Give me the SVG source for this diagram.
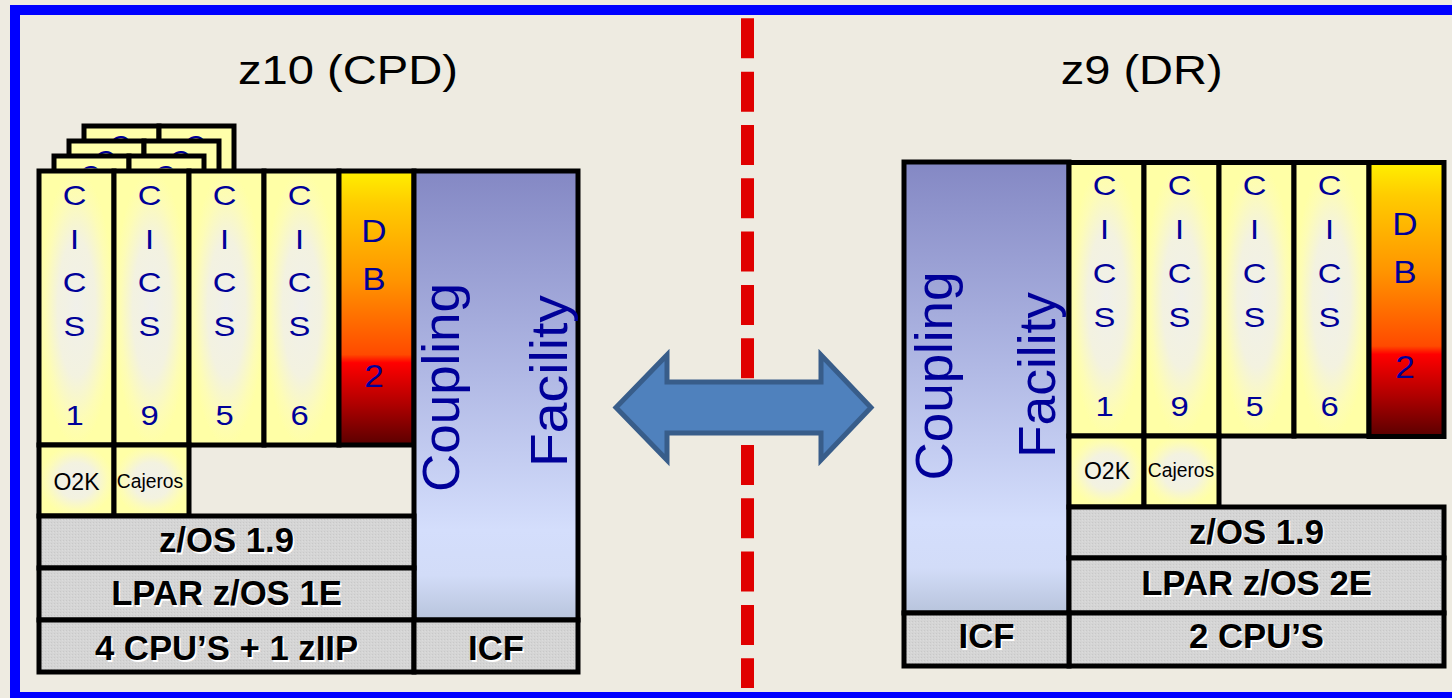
<svg xmlns="http://www.w3.org/2000/svg" width="1452" height="698" viewBox="0 0 1452 698">
<defs>
<style>
.box{stroke:#000;stroke-width:5}
.cics{fill:url(#yel)}
.ltr{font-family:"Liberation Sans",Arial,sans-serif;font-size:28.5px;fill:#000099;text-anchor:middle}
.db{font-family:"Liberation Sans",Arial,sans-serif;font-size:30.5px;fill:#000099;text-anchor:middle}
.bar{fill:url(#tex)}
.bt{font-family:"Liberation Sans",Arial,sans-serif;font-size:34.7px;font-weight:bold;text-anchor:middle}
.sh{fill:#fff}
.cf{font-family:"Liberation Sans",Arial,sans-serif;font-size:52px;fill:#000099;text-anchor:middle}
.title{font-family:"Liberation Sans",Arial,sans-serif;font-size:40px;fill:#000;text-anchor:middle}
.sm{font-family:"Liberation Sans",Arial,sans-serif;fill:#000;text-anchor:middle}
.paper{fill:#FFFFAA;stroke:#000;stroke-width:5}
</style>
<radialGradient id="yel" cx="50%" cy="50%" r="50%">
<stop offset="0" stop-color="#F0F0EA"/>
<stop offset="0.5" stop-color="#F3F2E0"/>
<stop offset="0.82" stop-color="#FDFCB6"/>
<stop offset="1" stop-color="#FFFFA6"/>
</radialGradient>
<linearGradient id="db2" x1="0" y1="0" x2="0" y2="1">
<stop offset="0" stop-color="#FFF000"/>
<stop offset="0.12" stop-color="#FFCC00"/>
<stop offset="0.4" stop-color="#FF9400"/>
<stop offset="0.67" stop-color="#FF4A00"/>
<stop offset="0.7" stop-color="#FF0000"/>
<stop offset="0.85" stop-color="#B00000"/>
<stop offset="1" stop-color="#5A0000"/>
</linearGradient>
<linearGradient id="cfg" x1="0" y1="0" x2="0" y2="1">
<stop offset="0" stop-color="#8488C4"/>
<stop offset="0.45" stop-color="#B0B8E4"/>
<stop offset="0.8" stop-color="#D4DEFC"/>
<stop offset="0.9" stop-color="#D2DCF8"/>
<stop offset="1" stop-color="#B8C4DC"/>
</linearGradient>
<pattern id="tex" width="3" height="3" patternUnits="userSpaceOnUse">
<rect width="3" height="3" fill="#D5D5D5"/>
<rect width="1" height="1" fill="#C8C8C8"/>
<rect x="2" y="1" width="1" height="1" fill="#DCDCDC"/>
</pattern>
<clipPath id="s3"><rect x="80" y="128.5" width="160" height="12.5"/></clipPath>
<clipPath id="s2"><rect x="65" y="143.5" width="160" height="12.5"/></clipPath>
<clipPath id="s1"><rect x="50" y="158.5" width="160" height="10"/></clipPath>
</defs>

<rect x="0" y="0" width="1452" height="698" fill="#EEEBE1"/>

<g id="divider">
<line x1="747.5" y1="18.3" x2="747.5" y2="688" stroke="#E00000" stroke-width="13" stroke-dasharray="40 13.33"/>
</g>

<g id="title-z10"><text class="title" x="348" y="83.5" textLength="220" lengthAdjust="spacingAndGlyphs">z10 (CPD)</text></g>
<g id="title-z9"><text class="title" x="1141.7" y="83.5" textLength="162" lengthAdjust="spacingAndGlyphs">z9 (DR)</text></g>

<!-- LEFT -->
<g id="left-stack">
<rect class="paper" x="84" y="126" width="75" height="274"/>
<rect class="paper" x="159" y="126" width="75" height="274"/>
<g clip-path="url(#s3)"><text class="ltr" x="120" y="155">C</text><text class="ltr" x="195" y="155">C</text></g>
<rect class="paper" x="69" y="141" width="75" height="274"/>
<rect class="paper" x="144" y="141" width="75" height="274"/>
<g clip-path="url(#s2)"><text class="ltr" x="105" y="170">C</text><text class="ltr" x="180" y="170">C</text></g>
<rect class="paper" x="54" y="156" width="75" height="274"/>
<rect class="paper" x="129" y="156" width="75" height="274"/>
<g clip-path="url(#s1)"><text class="ltr" x="90" y="185">C</text><text class="ltr" x="165" y="185">C</text></g>
</g>

<g id="left-cics1"><rect class="box cics" x="39" y="171" width="75" height="274"/>
<g transform="translate(74.5 0) scale(1.15 1)"><text class="ltr" x="0" y="205">C</text><text class="ltr" x="0" y="249">I</text><text class="ltr" x="0" y="292">C</text><text class="ltr" x="0" y="336.5">S</text><text class="ltr" x="0" y="425">1</text></g></g>
<g id="left-cics9"><rect class="box cics" x="114" y="171" width="75" height="274"/>
<g transform="translate(149.5 0) scale(1.15 1)"><text class="ltr" x="0" y="205">C</text><text class="ltr" x="0" y="249">I</text><text class="ltr" x="0" y="292">C</text><text class="ltr" x="0" y="336.5">S</text><text class="ltr" x="0" y="425">9</text></g></g>
<g id="left-cics5"><rect class="box cics" x="189" y="171" width="75" height="274"/>
<g transform="translate(224.5 0) scale(1.15 1)"><text class="ltr" x="0" y="205">C</text><text class="ltr" x="0" y="249">I</text><text class="ltr" x="0" y="292">C</text><text class="ltr" x="0" y="336.5">S</text><text class="ltr" x="0" y="425">5</text></g></g>
<g id="left-cics6"><rect class="box cics" x="264" y="171" width="75" height="274"/>
<g transform="translate(299.5 0) scale(1.15 1)"><text class="ltr" x="0" y="205">C</text><text class="ltr" x="0" y="249">I</text><text class="ltr" x="0" y="292">C</text><text class="ltr" x="0" y="336.5">S</text><text class="ltr" x="0" y="425">6</text></g></g>
<g id="left-db2"><rect class="box" x="339" y="171" width="75" height="274" fill="url(#db2)"/>
<g transform="translate(374 0) scale(1.15 1)"><text class="db" x="0" y="242">D</text><text class="db" x="0" y="290">B</text><text class="db" x="0" y="387">2</text></g></g>

<g id="left-o2k"><rect class="box cics" x="39" y="445" width="75" height="71"/>
<text class="sm" x="76.5" y="489.5" font-size="23">O2K</text></g>
<g id="left-cajeros"><rect class="box cics" x="114" y="445" width="75" height="71"/>
<text class="sm" x="150" y="487.5" font-size="19.3">Cajeros</text></g>

<g id="left-cf"><rect class="box" x="414" y="171" width="164" height="449" fill="url(#cfg)"/>
<text class="cf" transform="translate(459 387.5) rotate(-90)" textLength="209" lengthAdjust="spacingAndGlyphs">Coupling</text>
<text class="cf" transform="translate(567 381) rotate(-90)" textLength="172" lengthAdjust="spacingAndGlyphs">Facility</text></g>

<g id="left-zos"><rect class="box bar" x="39" y="516" width="375" height="52"/>
<text class="bt sh" x="228" y="553.5">z/OS 1.9</text><text class="bt" x="226.5" y="552">z/OS 1.9</text></g>
<g id="left-lpar"><rect class="box bar" x="39" y="568" width="375" height="52"/>
<text class="bt sh" x="228" y="606.5">LPAR z/OS 1E</text><text class="bt" x="226.5" y="605">LPAR z/OS 1E</text></g>
<g id="left-cpu"><rect class="box bar" x="39" y="620" width="375" height="52"/>
<text class="bt sh" x="228" y="661.5">4 CPU’S + 1 zIIP</text><text class="bt" x="226.5" y="660">4 CPU’S + 1 zIIP</text></g>
<g id="left-icf"><rect class="box bar" x="414" y="620" width="164" height="52"/>
<text class="bt sh" x="497.5" y="661.5">ICF</text><text class="bt" x="496" y="660">ICF</text></g>

<!-- RIGHT -->
<g id="right-cf"><rect class="box" x="904" y="162" width="165" height="451" fill="url(#cfg)"/>
<text class="cf" transform="translate(952 376) rotate(-90)" textLength="209" lengthAdjust="spacingAndGlyphs">Coupling</text>
<text class="cf" transform="translate(1055 375) rotate(-90)" textLength="166" lengthAdjust="spacingAndGlyphs">Facility</text></g>

<g id="right-cics1"><rect class="box cics" x="1069" y="162.5" width="75" height="273.5"/>
<g transform="translate(1104.5 0) scale(1.15 1)"><text class="ltr" x="0" y="195.5">C</text><text class="ltr" x="0" y="239.5">I</text><text class="ltr" x="0" y="283">C</text><text class="ltr" x="0" y="327.5">S</text><text class="ltr" x="0" y="416">1</text></g></g>
<g id="right-cics9"><rect class="box cics" x="1144" y="162.5" width="75" height="273.5"/>
<g transform="translate(1179.5 0) scale(1.15 1)"><text class="ltr" x="0" y="195.5">C</text><text class="ltr" x="0" y="239.5">I</text><text class="ltr" x="0" y="283">C</text><text class="ltr" x="0" y="327.5">S</text><text class="ltr" x="0" y="416">9</text></g></g>
<g id="right-cics5"><rect class="box cics" x="1219" y="162.5" width="75" height="273.5"/>
<g transform="translate(1254.5 0) scale(1.15 1)"><text class="ltr" x="0" y="195.5">C</text><text class="ltr" x="0" y="239.5">I</text><text class="ltr" x="0" y="283">C</text><text class="ltr" x="0" y="327.5">S</text><text class="ltr" x="0" y="416">5</text></g></g>
<g id="right-cics6"><rect class="box cics" x="1294" y="162.5" width="75" height="273.5"/>
<g transform="translate(1329.5 0) scale(1.15 1)"><text class="ltr" x="0" y="195.5">C</text><text class="ltr" x="0" y="239.5">I</text><text class="ltr" x="0" y="283">C</text><text class="ltr" x="0" y="327.5">S</text><text class="ltr" x="0" y="416">6</text></g></g>
<g id="right-db2"><rect class="box" x="1369" y="162.5" width="75" height="274" fill="url(#db2)"/>
<g transform="translate(1405 0) scale(1.15 1)"><text class="db" x="0" y="235">D</text><text class="db" x="0" y="283">B</text><text class="db" x="0" y="378.5">2</text></g></g>

<g id="right-o2k"><rect class="box cics" x="1069" y="436" width="75" height="71"/>
<text class="sm" x="1107" y="479" font-size="23">O2K</text></g>
<g id="right-cajeros"><rect class="box cics" x="1144" y="436" width="75" height="71"/>
<text class="sm" x="1181" y="477" font-size="19.3">Cajeros</text></g>

<g id="right-zos"><rect class="box bar" x="1069" y="507" width="375" height="51"/>
<text class="bt sh" x="1258" y="545">z/OS 1.9</text><text class="bt" x="1256.5" y="543.5">z/OS 1.9</text></g>
<g id="right-lpar"><rect class="box bar" x="1069" y="558" width="375" height="55"/>
<text class="bt sh" x="1258" y="596.5">LPAR z/OS 2E</text><text class="bt" x="1256.5" y="595">LPAR z/OS 2E</text></g>
<g id="right-cpu"><rect class="box bar" x="1069" y="613" width="375" height="53"/>
<text class="bt sh" x="1258" y="649.5">2 CPU’S</text><text class="bt" x="1256.5" y="648">2 CPU’S</text></g>
<g id="right-icf"><rect class="box bar" x="904" y="613" width="165" height="53"/>
<text class="bt sh" x="988" y="649.5">ICF</text><text class="bt" x="986.5" y="648">ICF</text></g>

<g id="connectors">
<polygon points="616,407.5 667,355 667,382 821,382 821,355 871,407.5 821,460 821,433 667,433 667,460" fill="#4F81BD" stroke="#385D8A" stroke-width="5" stroke-linejoin="miter"/>
</g>

<rect x="15" y="10" width="1450" height="687" fill="none" stroke="#0000FF" stroke-width="10"/>
</svg>
